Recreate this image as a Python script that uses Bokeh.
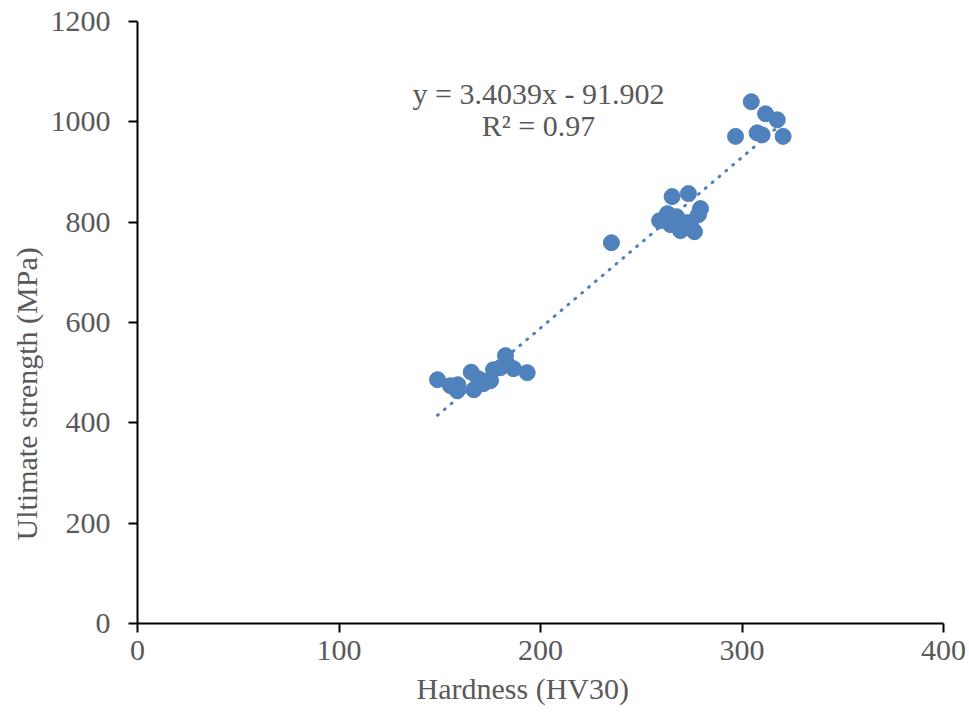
from bokeh.plotting import figure
from bokeh.models import ColumnDataSource, Label, Title, FixedTicker
from bokeh.embed import file_html
from bokeh.resources import INLINE

# Data
hardness = [148.9, 155.3, 159.0, 158.7, 165.6, 166.9, 169.2, 171.7, 175.2, 176.7,
            180.1, 182.6, 183.1, 186.6, 193.4,
            235.2,
            265.3, 273.4, 279.4, 278.4, 259.1, 263.0, 267.5, 264.5, 272.5, 269.5,
            276.4, 274.4,
            304.6, 311.7, 317.5, 296.8, 307.5, 310.0, 320.4]
strength = [486, 474, 476, 464, 501, 466, 488, 478, 484, 506,
            510, 534, 520, 508, 500,
            759,
            851, 857, 827, 815, 803, 817, 811, 795, 799, 783,
            781, 799,
            1040, 1016, 1004, 971, 978, 974, 971]

slope = 3.4039
intercept = -91.902
r_squared = "0.97"
x_ticks = [0, 100, 200, 300, 400]
y_ticks = [0, 200, 400, 600, 800, 1000, 1200]
x_title = "Hardness (HV30)"
y_title = "Ultimate strength (MPa)"

FONT = "Liberation Serif"
GREY = "#595959"
BLUE = "#4F81BD"

p = figure(width=969, height=724, output_backend="svg", toolbar_location=None,
           x_range=(0, 400), y_range=(0, 1200),
           min_border_left=137, min_border_right=26, min_border_top=21, min_border_bottom=101)
p.outline_line_color = None
p.xgrid.grid_line_color = None
p.ygrid.grid_line_color = None
p.background_fill_color = "white"
p.border_fill_color = "white"

for ax in (p.xaxis[0], p.yaxis[0]):
    ax.axis_line_color = "black"
    ax.axis_line_width = 2
    ax.major_tick_line_color = "black"
    ax.major_tick_line_width = 2
    ax.major_tick_out = 9
    ax.major_tick_in = 0
    ax.minor_tick_line_color = None
    ax.major_label_text_font = FONT
    ax.major_label_text_font_size = "30px"
    ax.major_label_text_color = GREY

p.xaxis[0].ticker = FixedTicker(ticks=x_ticks)
p.yaxis[0].ticker = FixedTicker(ticks=y_ticks)
p.xaxis[0].major_label_standoff = 8
p.yaxis[0].major_label_standoff = 18

src = ColumnDataSource(dict(x=hardness, y=strength))
p.scatter("x", "y", source=src, size=16, fill_color=BLUE, line_color=BLUE, line_width=1)

x0, x1 = min(hardness), max(hardness)
p.line([x0, x1], [slope * x0 + intercept, slope * x1 + intercept],
       line_color=BLUE, line_width=3, line_dash="1 8", line_cap="round")

eq_text = f"y = {slope}x - {abs(intercept)}"
p.add_layout(Label(x=199, y=1056, text=eq_text, text_align="center", text_baseline="alphabetic",
                   text_font=FONT, text_font_size="30px", text_color=GREY))
p.add_layout(Label(x=199, y=993, text=f"R\u00b2 = {r_squared}", text_align="center",
                   text_baseline="alphabetic", text_font=FONT, text_font_size="30px", text_color=GREY))

p.add_layout(Title(text=x_title, align="left", offset=279, standoff=14,
                   text_font=FONT, text_font_size="30px", text_font_style="normal",
                   text_color=GREY), "below")
p.add_layout(Title(text=y_title, align="left", offset=83, standoff=10,
                   text_font=FONT, text_font_size="30px", text_font_style="normal",
                   text_color=GREY), "left")

open("out.html", "w").write(file_html(p, INLINE))
